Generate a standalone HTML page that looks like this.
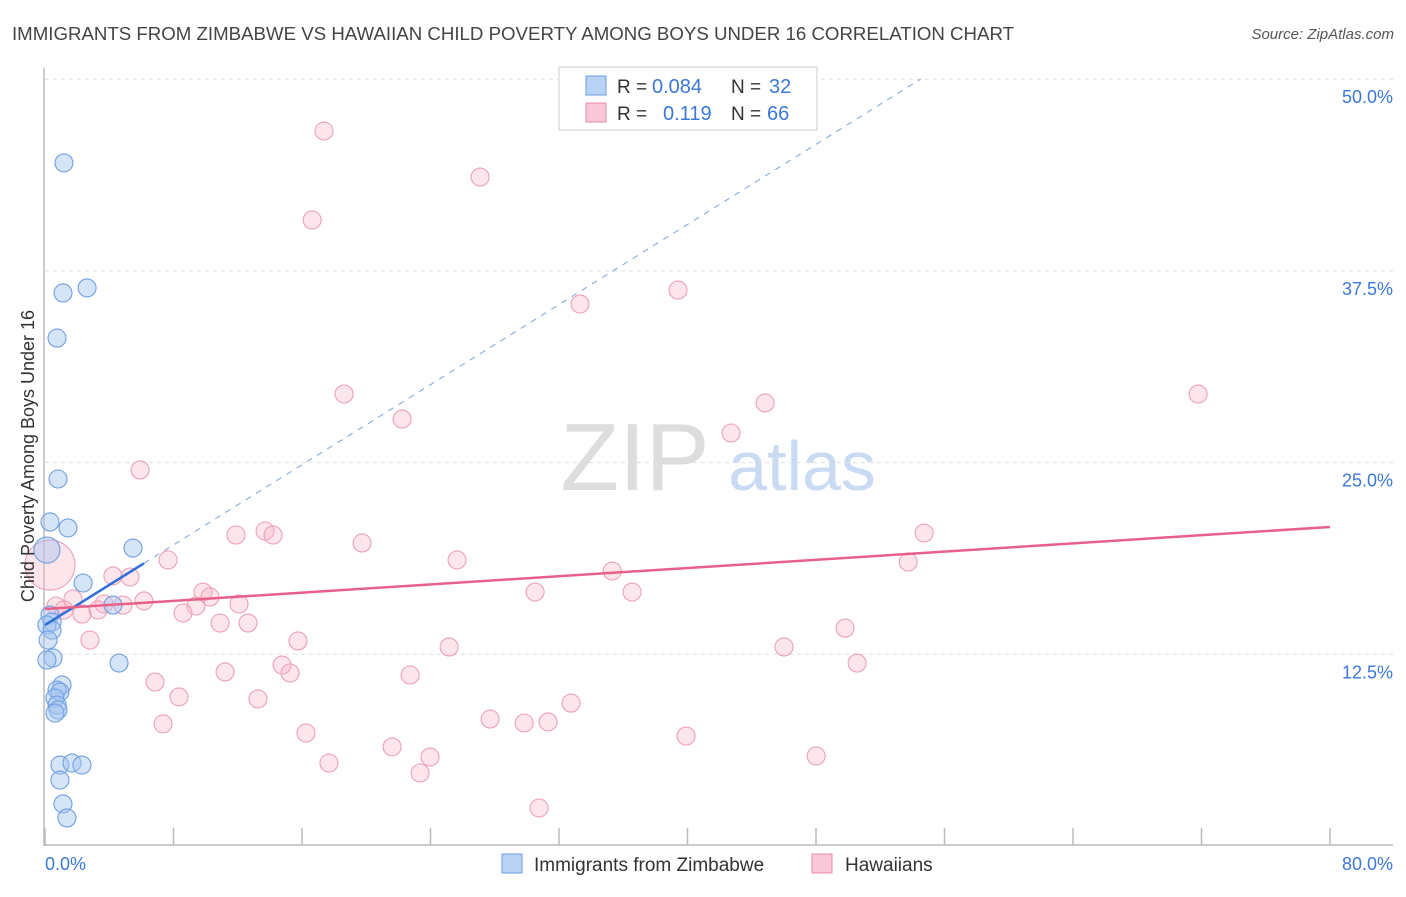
<!DOCTYPE html>
<html><head><meta charset="utf-8"><style>
body{margin:0;background:#fff;font-family:"Liberation Sans",sans-serif;}
svg text{font-family:"Liberation Sans",sans-serif;}
</style></head><body>
<svg id="chart" width="1406" height="892">
<text x="12" y="40" font-size="18.5" fill="#444" textLength="1002" lengthAdjust="spacingAndGlyphs">IMMIGRANTS FROM ZIMBABWE VS HAWAIIAN CHILD POVERTY AMONG BOYS UNDER 16 CORRELATION CHART</text>
<text x="1394" y="39" font-size="15" fill="#555" font-style="italic" text-anchor="end">Source: ZipAtlas.com</text>
<g>
<text x="635" y="490" font-size="96" fill="#ddd" font-family="Liberation Serif" text-anchor="middle">ZIP</text>
<text x="802" y="490" font-size="70" fill="#c9dbf3" text-anchor="middle">atlas</text>
</g>
<g id="grid"></g>
<g id="axes"></g>
<g id="marks"></g>
<text transform="translate(34,456) rotate(-90)" font-size="18" fill="#333" text-anchor="middle">Child Poverty Among Boys Under 16</text>
<g>
<rect x="559" y="67" width="258" height="63" fill="#fff" stroke="#ccc"/>
<rect x="586" y="76" width="20" height="19" fill="#b9d3f5" stroke="#6a9be0"/>
<rect x="586" y="103" width="20" height="19" fill="#fac8d8" stroke="#e88aa8"/>
<text x="617" y="93" font-size="19" fill="#333">R =</text>
<text x="652" y="93" font-size="20" fill="#3c78d8">0.084</text>
<text x="731" y="93" font-size="19" fill="#333">N =</text>
<text x="769" y="93" font-size="20" fill="#3c78d8">32</text>
<text x="617" y="120" font-size="19" fill="#333">R =</text>
<text x="663" y="120" font-size="20" fill="#3c78d8">0.119</text>
<text x="731" y="120" font-size="19" fill="#333">N =</text>
<text x="767" y="120" font-size="20" fill="#3c78d8">66</text>
</g>
<g>
<rect x="502" y="854" width="20" height="19" fill="#b9d3f5" stroke="#6a9be0"/>
<text x="534" y="871" font-size="19" fill="#333">Immigrants from Zimbabwe</text>
<rect x="812" y="854" width="20" height="19" fill="#fac8d8" stroke="#e88aa8"/>
<text x="845" y="871" font-size="19" fill="#333">Hawaiians</text>
</g>
</svg>
<script>
const blueX=[1.18,2.62,1.12,0.75,0.81,1.43,0.31,0.12,5.48,2.37,4.23,0.31,0.44,0.12,0.44,0.19,0.50,0.12,4.61,1.06,0.75,0.93,0.62,0.75,0.81,0.62,0.93,1.68,2.30,0.93,1.12,1.37];
const blueY=[44.54,36.39,36.06,33.12,23.93,20.74,21.13,19.30,19.43,17.15,15.71,15.06,14.61,14.41,14.08,13.43,12.26,12.13,11.93,10.50,10.17,10.04,9.65,9.19,8.87,8.67,5.28,5.41,5.28,4.30,2.74,1.83];
const blueR=[9,9,9,9,9,9,9,13,9,9,9,9,9,9,9,9,9,9,9,9,9,9,9,9,9,9,9,9,9,9,9,9];
const pinkX=[17.37,27.09,16.63,33.31,39.41,18.62,22.23,44.83,71.79,42.71,5.92,54.73,11.89,13.70,14.20,19.74,25.65,53.74,7.66,35.31,4.23,5.29,30.51,36.55,9.84,10.27,1.74,6.16,9.40,12.08,3.67,4.86,0.68,1.18,3.30,2.30,8.59,10.90,12.64,49.81,2.80,15.75,25.16,46.01,50.56,14.76,15.26,11.21,22.73,6.85,8.34,13.26,32.75,27.71,29.83,31.32,7.35,16.25,39.91,21.61,23.97,17.68,48.01,23.35,30.76,0.31];
const pinkY=[46.62,43.62,40.82,35.34,36.25,29.47,27.84,28.89,29.47,26.93,24.52,20.41,20.28,20.54,20.28,19.76,18.65,18.52,18.65,17.93,17.61,17.54,16.56,16.56,16.56,16.24,16.11,15.98,15.65,15.78,15.78,15.71,15.65,15.39,15.39,15.13,15.19,14.54,14.54,14.21,13.43,13.37,12.98,12.98,11.93,11.80,11.28,11.35,11.15,10.69,9.72,9.59,9.32,8.28,8.02,8.09,7.96,7.37,7.17,6.46,5.80,5.41,5.87,4.76,2.48,18.32];
const blueTrend=[14.41,0.653]; // intercept, slope
const pinkTrend=[15.45,0.0669];
const yTicks=[12.5,25,37.5,50];
const yTickLabels=["12.5%","25.0%","37.5%","50.0%"];
const xTicks=[0,8,16,24,32,40,48,56,64,72,80];

const NS="http://www.w3.org/2000/svg";
const sx=v=>45+v*16.0625, sy=v=>846-v*15.336;
function mk(tag,attrs,parent){const e=document.createElementNS(NS,tag);for(const k in attrs)e.setAttribute(k,attrs[k]);parent.appendChild(e);return e;}
const grid=document.getElementById('grid'),axes=document.getElementById('axes'),marks=document.getElementById('marks');
yTicks.forEach((t,i)=>{
  const l=mk('line',{x1:45,x2:1393,y1:sy(t),y2:sy(t),stroke:'#ddd','stroke-dasharray':'4,4'},grid);
  
  
  const tx=mk('text',{x:1393,y:sy(t)+24,'font-size':18,fill:'#3c78d8','text-anchor':'end'},axes);
  tx.textContent=yTickLabels[i];
  
  
});
const ya=mk('line',{x1:44,x2:44,y1:68,y2:846,stroke:'#bbb','stroke-width':1.5},axes);


const xa=mk('line',{x1:44,x2:1393,y1:845,y2:845,stroke:'#bbb','stroke-width':1.5},axes);


xTicks.forEach(t=>{
  const l=mk('line',{x1:sx(t),x2:sx(t),y1:828,y2:845,stroke:'#bbb','stroke-width':1.5},axes);
  
  
});
const x0=mk('text',{x:45,y:870,'font-size':18,fill:'#3c78d8'},axes);x0.textContent=xTicks[0].toFixed(1)+'%';


const x1=mk('text',{x:1393,y:870,'font-size':18,fill:'#3c78d8','text-anchor':'end'},axes);x1.textContent=xTicks[xTicks.length-1].toFixed(1)+'%';



pinkX.forEach((x,i)=>{
  const c=mk('circle',{cx:sx(x),cy:sy(pinkY[i]),r:i===65?25:9,fill:'rgba(248,180,200,0.35)',stroke:'#eda0b8','stroke-width':1.1},marks);
  
  
});
blueX.forEach((x,i)=>{
  const c=mk('circle',{cx:sx(x),cy:sy(blueY[i]),r:blueR[i],fill:'rgba(164,196,240,0.45)',stroke:'#6f9fe2','stroke-width':1.1},marks);
  
  
});
const bEnd=(50-blueTrend[0])/blueTrend[1];
const bd=mk('line',{x1:sx(6.16),y1:sy(blueTrend[0]+blueTrend[1]*6.16),x2:sx(bEnd),y2:sy(50),stroke:'#7aa3e0','stroke-width':1,'stroke-dasharray':'6,6'},marks);


const bl=mk('line',{x1:sx(0),y1:sy(blueTrend[0]),x2:sx(6.16),y2:sy(blueTrend[0]+blueTrend[1]*6.16),stroke:'#2f6fd6','stroke-width':2.5},marks);


const pl=mk('line',{x1:sx(0),y1:sy(pinkTrend[0]),x2:sx(80),y2:sy(pinkTrend[0]+pinkTrend[1]*80),stroke:'#e8608a','stroke-width':2.5},marks);


</script>
</body></html>
